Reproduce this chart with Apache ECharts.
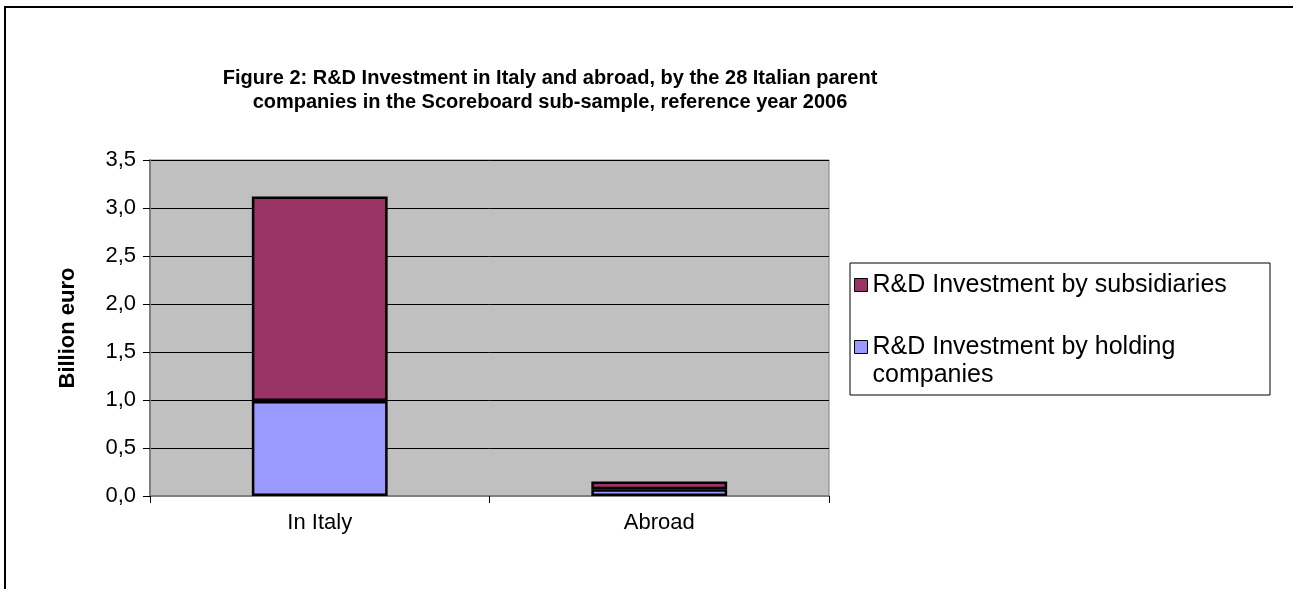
<!DOCTYPE html>
<html>
<head>
<meta charset="utf-8">
<script src="https://cdn.jsdelivr.net/npm/echarts@6/dist/echarts.min.js"></script>
<style>html,body{margin:0;padding:0;background:#fff;}#c{width:1293px;height:589px;}</style>
</head>
<body>
<div id="c"></div>
<script>
var categories = ['In Italy', 'Abroad'];
var holding = [0.99, 0.07];
var subsidiaries = [2.13, 0.08];
var yTicks = [0, 0.5, 1.0, 1.5, 2.0, 2.5, 3.0, 3.5];
var titleText = 'Figure 2: R&D Investment in Italy and abroad, by the 28 Italian parent\ncompanies in the Scoreboard sub-sample, reference year 2006';
var nameSubs = 'R&D Investment by subsidiaries';
var nameHold = 'R&D Investment by holding companies';

var chart = echarts.init(document.getElementById('c'));
var F = 'Arial, "Liberation Sans", sans-serif';
chart.setOption({
  animation: false,
  backgroundColor: '#fff',
  graphic: [
    { type: 'rect', shape: { x: 5, y: 7, width: 1300, height: 600 }, style: { fill: 'none', stroke: '#000', lineWidth: 2 }, z: -10 },
    { type: 'rect', shape: { x: 850, y: 263, width: 420, height: 132 }, style: { fill: '#fff', stroke: '#000', lineWidth: 1 }, z: 0 }
  ],
  title: {
    text: titleText,
    left: 545, top: 61, textAlign: 'center',
    textStyle: { fontFamily: F, fontSize: 20, fontWeight: 'bold', color: '#000', lineHeight: 24 }
  },
  legend: {
    orient: 'vertical', left: 854, top: 271, padding: 0,
    itemWidth: 13, itemHeight: 13, itemGap: 6, icon: 'rect',
    itemStyle: { borderColor: '#000', borderWidth: 1 },
    data: [ { name: nameSubs }, { name: nameHold } ],
    formatter: function (n) { return n === nameHold ? ' \nR&D Investment by holding\ncompanies' : n; },
    textStyle: { fontFamily: F, fontSize: 25, color: '#000', lineHeight: 28 },
    z: 5
  },
  grid: { left: 150, right: 464, top: 160, bottom: 93, show: true, backgroundColor: '#C0C0C0', borderColor: '#808080', borderWidth: 1 },
  xAxis: {
    type: 'category', data: categories,
    axisLine: { lineStyle: { color: '#808080', width: 2 } },
    axisTick: { show: true, length: 7, lineStyle: { color: '#000' } },
    axisLabel: { fontFamily: F, fontSize: 22, color: '#000', margin: 16 }
  },
  yAxis: {
    type: 'value', min: 0, max: 3.5, interval: 0.5,
    name: 'Billion euro', nameLocation: 'middle', nameGap: 71,
    nameTextStyle: { fontFamily: F, fontSize: 22, fontWeight: 'bold', color: '#000' },
    axisLine: { show: true, lineStyle: { color: '#808080', width: 2 } },
    axisTick: { show: true, length: 7, lineStyle: { color: '#000' } },
    splitLine: { lineStyle: { color: '#000', width: 1 } },
    axisLabel: { fontFamily: F, fontSize: 22, color: '#000', margin: 14,
      formatter: function (v) { return v.toFixed(1).replace('.', ','); } }
  },
  series: [
    { name: nameHold, type: 'bar', stack: 't', data: holding, barWidth: '40%',
      itemStyle: { color: '#9999FF', borderColor: '#000', borderWidth: 2.5 } },
    { name: nameSubs, type: 'bar', stack: 't', data: subsidiaries, barWidth: '40%',
      itemStyle: { color: '#993366', borderColor: '#000', borderWidth: 2.5 } }
  ]
});
</script>
</body>
</html>
